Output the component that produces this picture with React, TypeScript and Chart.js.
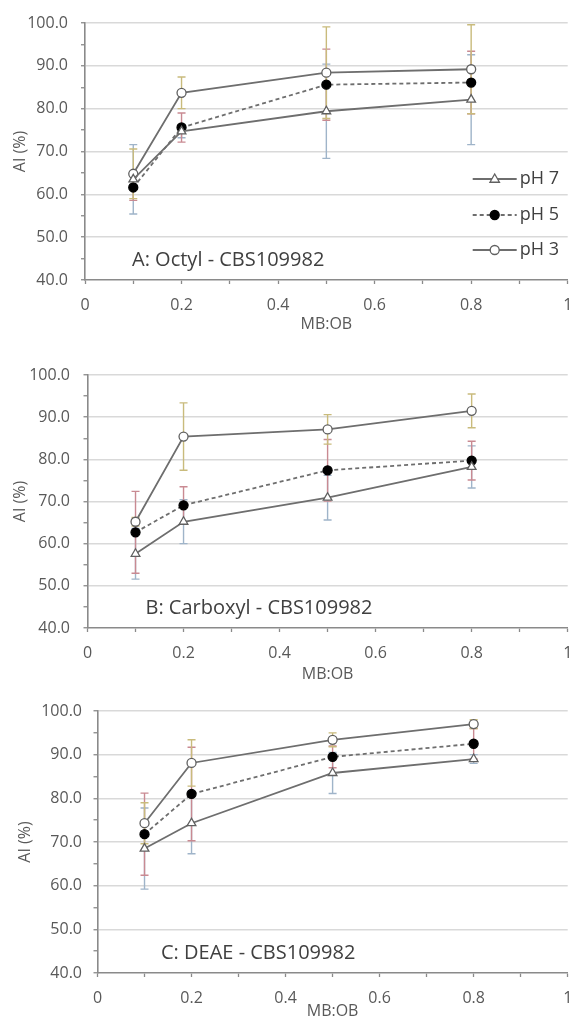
import React, { useEffect, useRef } from "react";
import { Chart, registerables } from "chart.js";

Chart.register(...registerables);

// ---------- data ----------
const MB_OB = [0.1, 0.2, 0.5, 0.8];
const SERIES_NAMES = ["pH 7", "pH 5", "pH 3"];
const Y_MIN = 40;
const Y_MAX = 100;
const Y_STEP = 5;
const X_MIN = 0;
const X_MAX = 1;
const X_STEP = 0.1;
const X_AXIS_TITLE = "MB:OB";
const Y_AXIS_TITLE = "AI (%)";
const PANEL_TITLES = ["A: Octyl - CBS109982", "B: Carboxyl - CBS109982", "C: DEAE - CBS109982"];

// Panel A: Octyl
const A_PH7 = [63.5, 74.7, 79.4, 82.1];
const A_PH7_ERR = [8.1, 1.5, 11.0, 10.5];
const A_PH5 = [61.6, 75.6, 85.6, 86.1];
const A_PH5_ERR = [3.0, 3.4, 8.3, 7.3];
const A_PH3 = [64.8, 83.7, 88.4, 89.2];
const A_PH3_ERR = [5.8, 3.7, 10.7, 10.4];

// Panel B: Carboxyl
const B_PH7 = [57.6, 65.2, 70.9, 78.2];
const B_PH7_ERR = [6.0, 5.2, 5.3, 5.0];
const B_PH5 = [62.7, 69.1, 77.4, 79.7];
const B_PH5_ERR = [9.7, 4.4, 7.3, 4.6];
const B_PH3 = [65.2, 85.4, 87.1, 91.5];
const B_PH3_ERR = [1.0, 8.0, 3.5, 4.0];

// Panel C: DEAE
const C_PH7 = [68.5, 74.3, 85.8, 89.0];
const C_PH7_ERR = [9.3, 7.0, 4.7, 1.0];
const C_PH5 = [71.8, 81.0, 89.5, 92.5];
const C_PH5_ERR = [9.4, 10.7, 2.5, 3.5];
const C_PH3 = [74.3, 88.1, 93.4, 97.0];
const C_PH3_ERR = [4.7, 5.3, 1.6, 1.0];

// ---------- styles ----------
const FONT = "'Open Sans', 'DejaVu Sans', sans-serif";
const TEXT_COLOR = "#595959";
const AXIS_COLOR = "#8a8a8a";
const GRID_COLOR = "#d9d9d9";
const LINE_COLOR = "#6e6e6e";
const ERR_COLORS = ["#9fb4c9", "#c98a92", "#c9bb7c"]; // pH7, pH5, pH3

const WIDTH = 574;

type PanelCfg = {
  top: number;
  height: number;
  areaLeft: number;
  areaRight: number;
  areaTop: number;
  areaBottom: number;
  yTickPad: number;
  xTickPad: number;
  yTitleCenter: number;
  xTitlePad: number;
  noteDx: number;
  noteDy: number;
  legend: boolean;
  title: string;
  values: number[][];
  errors: number[][];
};

const PANELS: PanelCfg[] = [
  {
    top: 0, height: 340, areaLeft: 85, areaRight: 568, areaTop: 23, areaBottom: 280,
    yTickPad: 13, xTickPad: 11.5, yTitleCenter: 20, xTitlePad: 6.4, noteDx: 47, noteDy: 20,
    legend: true, title: PANEL_TITLES[0],
    values: [A_PH7, A_PH5, A_PH3], errors: [A_PH7_ERR, A_PH5_ERR, A_PH3_ERR],
  },
  {
    top: 340, height: 350, areaLeft: 87.5, areaRight: 570, areaTop: 35, areaBottom: 288,
    yTickPad: 13.5, xTickPad: 11.4, yTitleCenter: 20, xTitlePad: 6.4, noteDx: 58, noteDy: 20,
    legend: false, title: PANEL_TITLES[1],
    values: [B_PH7, B_PH5, B_PH3], errors: [B_PH7_ERR, B_PH5_ERR, B_PH3_ERR],
  },
  {
    top: 690, height: 331, areaLeft: 97.5, areaRight: 571, areaTop: 21, areaBottom: 283,
    yTickPad: 11.5, xTickPad: 11.4, yTitleCenter: 25, xTitlePad: 0, noteDx: 63.5, noteDy: 20,
    legend: false, title: PANEL_TITLES[2],
    values: [C_PH7, C_PH5, C_PH3], errors: [C_PH7_ERR, C_PH5_ERR, C_PH3_ERR],
  },
];

// ---------- plugins ----------
function drawMarker(ctx: CanvasRenderingContext2D, style: string, x: number, y: number, r: number, fill: string, stroke: string, lw: number) {
  ctx.save();
  ctx.beginPath();
  if (style === "triangle") {
    const h = r * 1.5;
    ctx.moveTo(x, y - r);
    ctx.lineTo(x + r * 0.95, y + r * 0.65);
    ctx.lineTo(x - r * 0.95, y + r * 0.65);
    ctx.closePath();
    void h;
  } else {
    ctx.arc(x, y, r, 0, Math.PI * 2);
  }
  ctx.fillStyle = fill;
  ctx.fill();
  ctx.lineWidth = lw;
  ctx.strokeStyle = stroke;
  ctx.setLineDash([]);
  ctx.stroke();
  ctx.restore();
}

const errorBarPlugin = {
  id: "errorBars",
  beforeDatasetsDraw(chart: any) {
    const { ctx } = chart;
    const xs = chart.scales.x;
    const ys = chart.scales.y;
    chart.data.datasets.forEach((ds: any) => {
      const errs: number[] = ds.errorValues;
      if (!errs) return;
      ctx.save();
      ctx.strokeStyle = ds.errorColor;
      ctx.lineWidth = 1.4;
      ds.data.forEach((p: any, j: number) => {
        const x = xs.getPixelForValue(p.x);
        const y1 = ys.getPixelForValue(p.y + errs[j]);
        const y2 = ys.getPixelForValue(p.y - errs[j]);
        ctx.beginPath();
        ctx.moveTo(x, y1);
        ctx.lineTo(x, y2);
        ctx.moveTo(x - 4, y1);
        ctx.lineTo(x + 4, y1);
        ctx.moveTo(x - 4, y2);
        ctx.lineTo(x + 4, y2);
        ctx.stroke();
      });
      ctx.restore();
    });
  },
};

const panelTextPlugin = {
  id: "panelText",
  afterDraw(chart: any, _args: any, opts: any) {
    const { ctx, chartArea } = chart;
    ctx.save();
    // panel annotation
    ctx.font = `20px ${FONT}`;
    ctx.fillStyle = "#404040";
    ctx.textAlign = "left";
    ctx.textBaseline = "middle";
    ctx.fillText(opts.title, chartArea.left + opts.noteDx, chartArea.bottom - opts.noteDy);

    if (opts.legend) {
      const rows = [156, 192, 227];
      const x0 = chartArea.right - 95;
      chart.data.datasets.forEach((ds: any, i: number) => {
        const y = chartArea.top + rows[i];
        ctx.save();
        ctx.strokeStyle = ds.borderColor;
        ctx.lineWidth = ds.borderWidth;
        ctx.setLineDash(ds.borderDash || []);
        ctx.beginPath();
        ctx.moveTo(x0, y);
        ctx.lineTo(x0 + 44, y);
        ctx.stroke();
        ctx.restore();
        drawMarker(ctx, ds.pointStyle, x0 + 22, y, ds.pointRadius, ds.pointBackgroundColor, ds.pointBorderColor, ds.pointBorderWidth);
        ctx.font = `18px ${FONT}`;
        ctx.fillStyle = "#404040";
        ctx.textAlign = "left";
        ctx.textBaseline = "middle";
        ctx.fillText(ds.label, x0 + 47, y);
      });
    }
    ctx.restore();
  },
};

function buildDatasets(cfg: PanelCfg) {
  const styles = [
    { pointStyle: "triangle", pointRadius: 5, bg: "#ffffff", border: "#606060", dash: [] as number[] },
    { pointStyle: "circle", pointRadius: 4.5, bg: "#000000", border: "#000000", dash: [4, 3] },
    { pointStyle: "circle", pointRadius: 4.5, bg: "#ffffff", border: "#606060", dash: [] as number[] },
  ];
  return SERIES_NAMES.map((name, i) => ({
    label: name,
    data: MB_OB.map((x, j) => ({ x, y: cfg.values[i][j] })),
    errorValues: cfg.errors[i],
    errorColor: ERR_COLORS[i],
    borderColor: LINE_COLOR,
    borderWidth: 1.8,
    borderDash: styles[i].dash,
    pointStyle: styles[i].pointStyle,
    pointRadius: styles[i].pointRadius,
    pointBackgroundColor: styles[i].bg,
    pointBorderColor: styles[i].border,
    pointBorderWidth: 1.3,
    tension: 0,
    fill: false,
  }));
}

function Panel({ cfg }: { cfg: PanelCfg }) {
  const ref = useRef<HTMLCanvasElement>(null);
  useEffect(() => {
    if (!ref.current) return;
    const chart = new Chart(ref.current, {
      type: "line",
      data: { datasets: buildDatasets(cfg) as any },
      plugins: [errorBarPlugin, panelTextPlugin],
      options: {
        responsive: false,
        animation: false,
        devicePixelRatio: 1,
        layout: { padding: { left: 0, right: WIDTH - cfg.areaRight, top: cfg.areaTop, bottom: 0 } },
        plugins: {
          legend: { display: false },
          tooltip: { enabled: false },
          panelText: { title: cfg.title, noteDx: cfg.noteDx, noteDy: cfg.noteDy, legend: cfg.legend },
        } as any,
        scales: {
          x: {
            type: "linear",
            min: X_MIN,
            max: X_MAX,
            afterFit: (s: any) => {
              s.height = cfg.height - cfg.areaBottom;
              s.paddingLeft = 0;
              s.paddingRight = 0;
            },
            ticks: {
              stepSize: X_STEP,
              autoSkip: false,
              maxRotation: 0,
              padding: cfg.xTickPad,
              color: TEXT_COLOR,
              font: { family: FONT, size: 16 },
              callback: (v: any) => {
                const k = Math.round(Number(v) * 10);
                return k % 2 === 0 ? String(k / 10) : "";
              },
            },
            grid: {
              drawOnChartArea: false,
              drawTicks: true,
              tickLength: 4,
              tickColor: AXIS_COLOR,
              tickWidth: 1.3,
            },
            border: { display: true, color: AXIS_COLOR, width: 1.6 },
            title: {
              display: true,
              text: X_AXIS_TITLE,
              color: TEXT_COLOR,
              font: { family: FONT, size: 16 },
              padding: { top: 0, bottom: cfg.xTitlePad },
            },
          },
          y: {
            type: "linear",
            min: Y_MIN,
            max: Y_MAX,
            afterFit: (s: any) => {
              s.width = cfg.areaLeft;
              s.paddingTop = 0;
              s.paddingBottom = 0;
            },
            ticks: {
              stepSize: Y_STEP,
              autoSkip: false,
              padding: cfg.yTickPad,
              color: TEXT_COLOR,
              font: { family: FONT, size: 16 },
              callback: (v: any) => (Math.round(Number(v)) % 10 === 0 ? Number(v).toFixed(1) : ""),
            },
            grid: {
              color: (c: any) => {
                const v = c.tick ? Math.round(c.tick.value) : 0;
                return v % 10 === 0 && v !== Y_MIN ? GRID_COLOR : "rgba(0,0,0,0)";
              },
              lineWidth: 1.5,
              drawTicks: true,
              tickLength: 4,
              tickColor: AXIS_COLOR,
              tickWidth: 1.3,
            },
            border: { display: true, color: AXIS_COLOR, width: 1.6 },
            title: {
              display: true,
              text: Y_AXIS_TITLE,
              color: TEXT_COLOR,
              font: { family: FONT, size: 16 },
              padding: { top: cfg.yTitleCenter - 9.6, bottom: 0 },
            },
          },
        },
      } as any,
    });
    return () => chart.destroy();
  }, []);
  return (
    <canvas
      ref={ref}
      width={WIDTH}
      height={cfg.height}
      style={{ position: "absolute", left: 0, top: cfg.top, width: WIDTH, height: cfg.height }}
    />
  );
}

export default function App() {
  return (
    <div style={{ position: "absolute", left: 0, top: 0, width: WIDTH, height: 1021, background: "#ffffff", overflow: "hidden" }}>
      {PANELS.map((cfg, i) => (
        <Panel key={i} cfg={cfg} />
      ))}
    </div>
  );
}
